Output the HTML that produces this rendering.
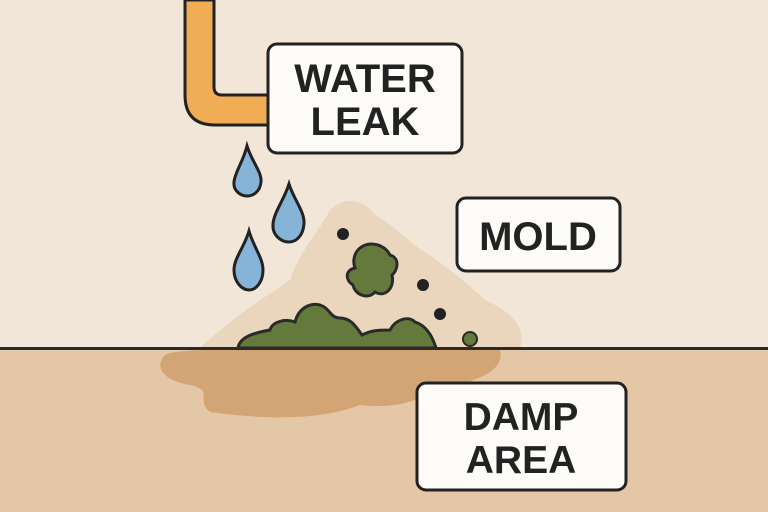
<!DOCTYPE html>
<html><head><style>
body{margin:0;width:768px;height:512px;overflow:hidden;background:#f1e6d8;}
svg{display:block}
text{font-family:"Liberation Sans",sans-serif;font-weight:bold;fill:#222;text-anchor:middle}
</style></head><body>
<svg width="768" height="512" viewBox="0 0 768 512">
<rect width="768" height="512" fill="#f1e6d8"/>
<rect y="348" width="768" height="164" fill="#e4c7a6"/>
<!-- background stain behind mold -->
<path d="M200,348 C230,320 260,300 290,280 C300,250 320,230 330,210 C345,195 365,200 375,215 C395,225 410,245 430,255 C450,270 470,285 485,300 C520,315 525,335 520,348 Z" fill="#ead6bd"/>
<!-- damp stain on floor -->
<path d="M165,355 C175,348 250,350 300,349 L500,350 C505,370 480,378 460,385 C420,395 410,410 360,405 C320,420 270,420 210,412 C195,400 215,390 190,385 C160,380 155,365 165,355 Z" fill="#d3a574"/>
<line x1="0" y1="348.5" x2="768" y2="348.5" stroke="#2a2a2a" stroke-width="3"/>
<!-- pipe -->
<path d="M185,0 L185,95 Q185,125 215,125 L270,125 L270,95 L222,95 Q214,95 214,87 L214,0 Z" fill="#f0ad55" stroke="#222" stroke-width="3"/>
<!-- drops -->
<g fill="#86b3d8" stroke="#222" stroke-width="3">
<path d="M247,146 C252,162 262,172 261,182 C260,192 253,196 247,196 C241,196 233,191 234,182 C235,172 243,162 247,146 Z"/>
<path d="M289,184 C294,200 305,212 304,224 C303,236 296,242 289,242 C282,242 272,236 273,224 C274,212 284,200 289,184 Z"/>
<path d="M249,231 C254,248 263,258 263,270 C263,282 256,290 249,290 C242,290 234,282 234,270 C234,258 244,248 249,231 Z"/>
</g>
<!-- mold -->
<g fill="#647a3c" stroke="#2a2a2a" stroke-width="3">
<path d="M238,348 C240,335 260,332 270,330 C272,322 285,318 295,322 C298,310 308,302 320,305 C330,308 330,318 340,318 C350,318 355,325 362,335 C372,330 380,330 390,330 C395,320 408,315 415,322 C425,325 432,335 436,348 Z"/>
<path d="M360,248 C370,240 385,245 390,255 C400,258 398,270 392,275 C395,288 385,298 375,292 C368,300 355,295 353,285 C345,280 345,270 355,268 C352,260 355,252 360,248 Z"/>
<circle cx="470" cy="339" r="7" stroke-width="2"/>
</g>
<g fill="#222"><circle cx="343" cy="234" r="6"/><circle cx="423" cy="285" r="6"/><circle cx="440" cy="314" r="6"/></g>
<!-- boxes -->
<g fill="#fdfcf8" stroke="#222" stroke-width="3">
<rect x="268" y="44" width="194" height="109" rx="9"/>
<rect x="457" y="198" width="163" height="73" rx="9"/>
<rect x="417" y="383" width="209" height="107" rx="9"/>
</g>
<text x="365" y="92" font-size="40">WATER</text>
<text x="365" y="135" font-size="40">LEAK</text>
<text x="538" y="250" font-size="40">MOLD</text>
<text x="521" y="430" font-size="39">DAMP</text>
<text x="521" y="473" font-size="39">AREA</text>
</svg>
</body></html>
